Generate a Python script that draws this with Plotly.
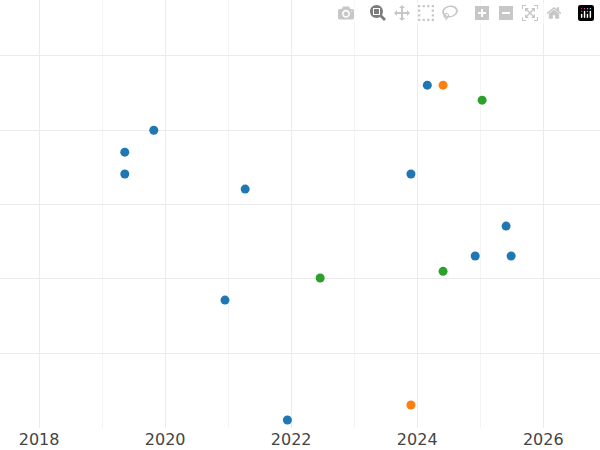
import plotly.graph_objects as go

blue_x = [2024.16, 2019.82, 2019.36, 2019.36, 2021.27, 2023.90, 2025.41, 2024.92, 2025.49, 2020.95, 2021.94]
blue_y = [4.607, 4.0, 3.705, 3.41, 3.207, 3.41, 2.709, 2.306, 2.306, 1.713, 0.098]
orange_x = [2024.41, 2023.90]
orange_y = [4.607, 0.30]
green_x = [2025.03, 2022.46, 2024.41]
green_y = [4.405, 2.01, 2.10]
tick_years = [2018, 2020, 2022, 2024, 2026]

fig = go.Figure()
for xs, ys, c in [(blue_x, blue_y, "#1f77b4"), (orange_x, orange_y, "#ff7f0e"), (green_x, green_y, "#2ca02c")]:
    fig.add_trace(go.Scatter(x=xs, y=ys, mode="markers", marker=dict(color=c, size=9), showlegend=False))

fig.update_layout(
    width=600, height=450, margin=dict(l=0, r=0, t=0, b=22),
    plot_bgcolor="white", paper_bgcolor="white",
    font=dict(family="DejaVu Sans", size=16, color="#444"),
)
fig.update_xaxes(range=[2017.38, 2026.90], tickvals=tick_years, ticktext=[str(t) for t in tick_years],
                 showgrid=True, gridcolor="#ebebeb", zeroline=False,
                 minor=dict(showgrid=True, gridcolor="#f4f4f4", tickvals=[2019, 2021, 2023, 2025]))
fig.update_yaxes(range=[-0.01, 5.754], tickvals=[1, 2, 3, 4, 5], showticklabels=False,
                 showgrid=True, gridcolor="#ebebeb", zeroline=False)
fig.write_html("out.html", post_script="document.body.style.margin='0';")
